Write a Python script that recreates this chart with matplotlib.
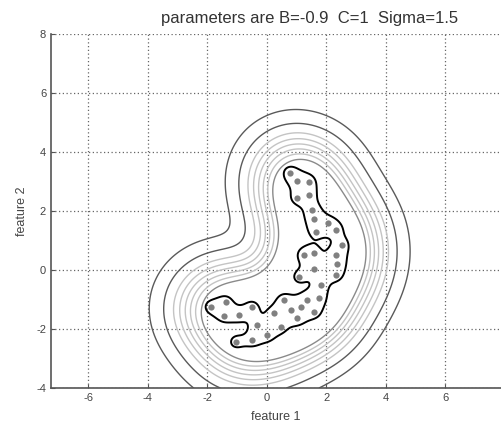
import numpy as np
import matplotlib
matplotlib.use('Agg')
import matplotlib.pyplot as plt

plt.rcParams['font.family'] = ['Liberation Sans', 'DejaVu Sans']
plt.rcParams['axes.unicode_minus'] = False

# data points (feature 1, feature 2)
feat1 = [0.78, 1.03, 1.42, 1.03, 1.42, 1.54, 1.60, 1.66, 2.05, 2.33, 2.54, 2.32, 2.38,
         1.25, 1.60, 1.09, 1.59, 1.82, 2.32, 1.76, 1.37, 1.59, 1.14, 0.81, 0.58, 0.25,
         -0.31, -0.48, -0.93, -1.43, -1.38, -1.88, -1.04, -0.48, 0.02, 0.47, 1.03]
feat2 = [3.30, 3.02, 3.00, 2.45, 2.55, 2.05, 1.72, 1.30, 1.58, 1.36, 0.85, 0.51, 0.22,
         0.51, 0.57, -0.23, 0.05, -0.51, -0.17, -0.96, -1.02, -1.42, -1.25, -1.36, -1.02, -1.47,
         -1.87, -1.25, -1.53, -1.55, -1.08, -1.25, -2.44, -2.38, -2.21, -1.93, -1.64]

B = -0.9
C = 1
sigma = 1.5

X = np.array(feat1)
Y = np.array(feat2)

def kde(gx, gy, s):
    d2 = (gx[..., None] - X) ** 2 + (gy[..., None] - Y) ** 2
    return np.exp(-d2 / s ** 2).sum(-1)

gx, gy = np.meshgrid(np.linspace(-7.25, 8, 420), np.linspace(-4, 8, 340))
s_map = 1.2
f_wide = kde(gx, gy, s_map)
f_tight = kde(gx, gy, 0.36)

# contour levels: value of the output along a ray above the top of the data
ray_y = np.array([5.44, 4.97, 4.65, 4.45, 4.27, 4.10, 3.93, 3.74])
lev = np.sort(kde(np.full_like(ray_y, 1.0), ray_y, s_map))
cols = ['#5a5a5a', '#5a5a5a', '#c4c4c4', '#c4c4c4', '#c4c4c4', '#c4c4c4', '#c4c4c4', '#8a8a8a']

fig = plt.figure(figsize=(5.01, 4.23), dpi=100, facecolor='white')
ax = fig.add_axes([51 / 501, 35 / 423, 450 / 501, 354 / 423])
ax.contour(gx, gy, f_wide, levels=lev, colors=cols, linewidths=1.0)
ax.plot(feat1, feat2, 'o', color='#808080', markersize=4.5, markeredgewidth=0)
ax.contour(gx, gy, f_tight, levels=[0.85], colors='black', linewidths=1.4)

ax.set_xlim(-7.25, 7.88)
ax.set_ylim(-4, 8)
ax.set_xticks([-6, -4, -2, 0, 2, 4, 6])
ax.set_yticks([-4, -2, 0, 2, 4, 6, 8])
ax.grid(True, linestyle=(0, (1, 2)), color='#666666', linewidth=0.9)
for s in ['top', 'right']:
    ax.spines[s].set_visible(False)
for s in ['left', 'bottom']:
    ax.spines[s].set_color('#555555')
    ax.spines[s].set_linewidth(1.2)
ax.tick_params(direction='in', length=3, colors='#555555', labelsize=8, labelcolor='#444444')
ax.set_xlabel('feature 1', fontsize=9, color='#444444', labelpad=6)
ax.set_ylabel('feature 2', fontsize=9, color='#444444', labelpad=6)
fig.text(310 / 501, 1 - 18 / 423, 'parameters are B=%g  C=%g  Sigma=%g' % (B, C, sigma),
         ha='center', va='center', fontsize=12, color='#333333')

fig.savefig('out.png', dpi=100)
